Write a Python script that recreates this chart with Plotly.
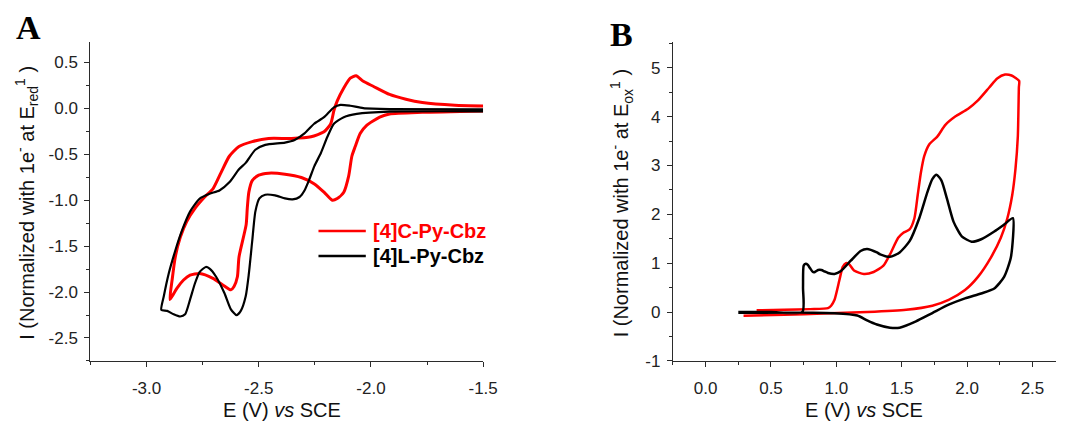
import plotly.graph_objects as go

W, H = 1071, 431

# ---- Panel A: reduction CVs (E vs SCE, normalized current) ----
c_red_E = [-1.50, -1.771, -1.917, -1.961, -2.019, -2.048, -2.070, -2.085, -2.099, -2.121,
           -2.150, -2.172, -2.209, -2.252, -2.310, -2.383, -2.456, -2.500, -2.529, -2.544,
           -2.551, -2.556, -2.588, -2.595, -2.610, -2.624, -2.660, -2.704, -2.763, -2.806,
           -2.835, -2.864, -2.886, -2.896,
           -2.886, -2.872, -2.850, -2.821, -2.784, -2.741, -2.704, -2.668, -2.631, -2.588,
           -2.529, -2.456, -2.354, -2.267, -2.209, -2.179, -2.165, -2.150, -2.121, -2.092,
           -2.066, -2.034, -1.990, -1.917, -1.844, -1.771, -1.626, -1.50]
c_red_I = [-0.027, -0.043, -0.061, -0.096, -0.184, -0.273, -0.415, -0.521, -0.734, -0.912,
           -0.982, -1.000, -0.912, -0.822, -0.752, -0.716, -0.705, -0.727, -0.787, -0.912,
           -1.088, -1.266, -1.620, -1.834, -1.940, -1.976, -1.922, -1.851, -1.798, -1.816,
           -1.869, -1.957, -2.046, -2.082,
           -1.869, -1.620, -1.407, -1.231, -1.088, -0.965, -0.876, -0.699, -0.521, -0.415,
           -0.362, -0.327, -0.327, -0.309, -0.255, -0.167, -0.024, 0.082, 0.223, 0.330,
           0.356, 0.295, 0.241, 0.152, 0.099, 0.064, 0.035, 0.027]

c_lin_E = [-1.50, -1.917, -2.063, -2.121, -2.165, -2.194, -2.223, -2.252, -2.274, -2.296,
           -2.318, -2.349, -2.383, -2.427, -2.471, -2.497, -2.515, -2.529, -2.544, -2.558,
           -2.580, -2.599, -2.624, -2.653, -2.690, -2.719, -2.736, -2.763, -2.784, -2.806,
           -2.828, -2.850, -2.879, -2.908, -2.934,
           -2.923, -2.901, -2.872, -2.843, -2.806, -2.763, -2.719, -2.675, -2.631, -2.588,
           -2.558, -2.515, -2.471, -2.383, -2.340, -2.296, -2.253, -2.209, -2.165, -2.136,
           -2.092, -2.034, -1.917, -1.50]
c_lin_I = [-0.032, -0.035, -0.060, -0.096, -0.167, -0.309, -0.486, -0.628, -0.769, -0.894,
           -0.965, -0.990, -0.980, -0.947, -0.940, -0.980, -1.124, -1.444, -1.800, -2.046,
           -2.205, -2.252, -2.188, -2.011, -1.833, -1.745, -1.727, -1.780, -1.904, -2.082,
           -2.242, -2.266, -2.242, -2.205, -2.195,
           -2.046, -1.798, -1.550, -1.337, -1.124, -0.982, -0.929, -0.894, -0.805, -0.663,
           -0.593, -0.450, -0.397, -0.372, -0.344, -0.273, -0.167, -0.096, 0.011, 0.039,
           0.029, 0.003, -0.007, -0.011]

# ---- Panel B: oxidation CVs ----
ox_c_E = [0.39, 0.60, 0.80, 0.936, 0.96, 0.986, 1.023, 1.048, 1.073, 1.098,
          1.135, 1.21, 1.285, 1.36, 1.41, 1.473, 1.51, 1.56, 1.597, 1.622,
          1.647, 1.672, 1.71, 1.772, 1.834, 1.909, 2.008, 2.083, 2.171, 2.23,
          2.29, 2.34, 2.398,
          2.396, 2.388, 2.37, 2.345, 2.308, 2.258, 2.183, 2.083, 1.984, 1.859,
          1.734, 1.534, 1.235, 0.90, 0.60, 0.29]
ox_c_I = [0.035, 0.045, 0.060, 0.080, 0.130, 0.250, 0.650, 0.920, 1.000, 0.980,
          0.850, 0.780, 0.820, 0.950, 1.180, 1.520, 1.620, 1.690, 1.920, 2.390,
          2.860, 3.190, 3.430, 3.590, 3.830, 4.000, 4.160, 4.330, 4.600, 4.780,
          4.860, 4.840, 4.730,
          4.600, 3.590, 2.930, 2.390, 1.920, 1.520, 1.120, 0.720, 0.450, 0.250,
          0.130, 0.046, 0.000, -0.030, -0.055, -0.074]

ox_l_E = [0.25, 0.50, 0.740, 0.745, 0.750, 0.766, 0.780, 0.798, 0.820, 0.836,
          0.860, 0.886, 0.910, 0.936, 0.986, 1.035, 1.11, 1.185, 1.235, 1.31,
          1.335, 1.41, 1.484, 1.56, 1.634, 1.697, 1.734, 1.766, 1.804, 1.846,
          1.896, 1.959, 2.034, 2.108, 2.208, 2.283, 2.350,
          2.335, 2.283, 2.208, 2.108, 1.984, 1.859, 1.734, 1.609, 1.484, 1.41,
          1.31, 1.235, 1.16, 0.986, 0.734, 0.25]
ox_l_I = [0.000, 0.000, 0.005, 0.500, 0.950, 0.990, 0.970, 0.900, 0.820, 0.820,
          0.860, 0.860, 0.830, 0.800, 0.780, 0.840, 1.050, 1.250, 1.290, 1.220,
          1.180, 1.130, 1.220, 1.450, 1.920, 2.460, 2.720, 2.810, 2.690, 2.320,
          1.850, 1.550, 1.440, 1.490, 1.650, 1.790, 1.920,
          1.120, 0.720, 0.480, 0.380, 0.280, 0.150, -0.020, -0.190, -0.320, -0.320,
          -0.255, -0.170, -0.070, -0.025, -0.010, -0.015]

names = ["[4]C-Py-Cbz", "[4]L-Py-Cbz"]

# tick values and their printed labels (plain hyphen as minus sign)
a_xticks = [-3.0, -2.5, -2.0, -1.5]
a_xlabels = ["-3.0", "-2.5", "-2.0", "-1.5"]
a_yticks = [0.5, 0.0, -0.5, -1.0, -1.5, -2.0, -2.5]
a_ylabels = ["0.5", "0.0", "-0.5", "-1.0", "-1.5", "-2.0", "-2.5"]
b_xticks = [0.0, 0.5, 1.0, 1.5, 2.0, 2.5]
b_xlabels = ["0.0", "0.5", "1.0", "1.5", "2.0", "2.5"]
b_yticks = [-1, 0, 1, 2, 3, 4, 5]
b_ylabels = ["-1", "0", "1", "2", "3", "4", "5"]

RED, BLACK = "#ff0000", "#000000"
FONT = "Liberation Sans, Arial, sans-serif"
SERIF = "Liberation Serif, Times New Roman, serif"
AXC = "#2b2b2b"


def curve(x, y, color, width, xa, ya, name):
    return go.Scatter(x=x, y=y, mode="lines", name=name, xaxis=xa, yaxis=ya,
                      line=dict(color=color, width=width, shape="spline",
                                smoothing=0.6))


fig = go.Figure()
fig.add_trace(curve(c_red_E, c_red_I, RED, 3, "x", "y", names[0]))
fig.add_trace(curve(c_lin_E, c_lin_I, BLACK, 2.2, "x", "y", names[1]))
fig.add_trace(curve(ox_c_E, ox_c_I, RED, 2.5, "x2", "y2", names[0]))
fig.add_trace(curve(ox_l_E, ox_l_I, BLACK, 2.5, "x2", "y2", names[1]))


def px(x):
    return x / W


def py(y):
    return 1 - y / H


def axis(rng, dom, vals, texts, minor, anchor, standoff):
    return dict(range=rng, domain=dom, tickmode="array", tickvals=vals, ticktext=texts,
                showgrid=False, zeroline=False, showline=True, linecolor=AXC,
                linewidth=1.3, ticks="outside", ticklen=5, tickwidth=1.2,
                tickcolor=AXC, anchor=anchor, ticklabelstandoff=standoff,
                tickfont=dict(family=FONT, size=17, color="#222222"),
                minor=dict(dtick=minor, tick0=0, ticks="outside", ticklen=3,
                           tickwidth=1.1, tickcolor=AXC, showgrid=False))


ydom = [py(369.5), py(43.3)]
fig.update_layout(
    width=W, height=H, margin=dict(l=0, r=0, t=0, b=0),
    paper_bgcolor="white", plot_bgcolor="white", showlegend=False,
    xaxis=axis([-3.25, -1.5], [px(91.7), px(490)], a_xticks, a_xlabels, 0.25, "y", 7),
    yaxis=axis([-2.75, 0.72], ydom, a_yticks, a_ylabels, 0.25, "x", 3),
    xaxis2=axis([-0.25, 2.68], [px(682.5), 1.0], b_xticks, b_xlabels, 0.25, "y2", 7),
    yaxis2=axis([-1, 5.52], ydom, b_yticks, b_ylabels, 0.5, "x2", 3),
)


def label(text, x, y, size, color="#111111", family=FONT, angle=0, xanchor="center"):
    return dict(text=text, x=px(x), y=py(y), xref="paper", yref="paper",
                xanchor=xanchor, yanchor="middle", textangle=angle, showarrow=False,
                font=dict(family=family, size=size, color=color))


ann = [
    label("<b>A</b>", 29, 28, 34, "black", SERIF),
    label("<b>B</b>", 630, 35, 34, "black", SERIF),
    label("E (V) <i>vs</i> SCE", 286, 420, 20),
    label("E (V) <i>vs</i> SCE", 876, 420, 20),
    label("I (Normalized with 1e<sup>-</sup> at E<sub>red</sub><sup>1</sup> )",
          27, 208, 20, angle=-90),
    label("I (Normalized with 1e<sup>-</sup> at E<sub>ox</sub><sup>1</sup> )",
          630, 208, 20, angle=-90),
]

# legend entries for panel A
shapes = []
for name, col, yy in [(names[0], RED, 236.5), (names[1], BLACK, 262.0)]:
    shapes.append(dict(type="line", xref="paper", yref="paper", x0=px(323), x1=px(371),
                       y0=py(yy), y1=py(yy), line=dict(color=col, width=2.5)))
    ann.append(label("<b>%s</b>" % name, 376, yy, 20, col, xanchor="left"))

fig.update_layout(annotations=ann, shapes=shapes)
fig.write_html("out.html")
